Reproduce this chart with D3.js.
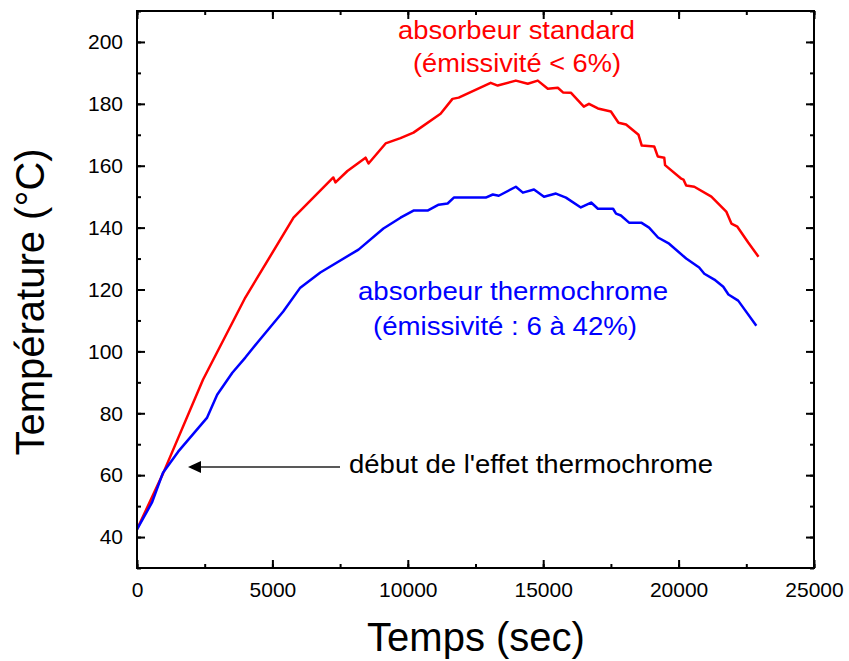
<!DOCTYPE html>
<html><head><meta charset="utf-8">
<script src="https://d3js.org/d3.v7.min.js"></script>
<style>body{margin:0;background:#fff}svg{display:block}text{font-family:Arial,"Liberation Sans",sans-serif}</style>
</head><body><div id="chart"></div>
<script>
const xTicks = [0,5000,10000,15000,20000,25000];
const yTicks = [40,60,80,100,120,140,160,180,200];

const standardT = [0,960,2440,4000,5780,7250,7330,7770,8440,8550,9180,9730,10210,11210,11650,11880,13060,13320,13990,14430,14800,15170,15540,15730,16020,16500,16690,17020,17500,17780,18060,18520,18640,19100,19230,19470,19500,20100,20180,20280,20580,21210,21760,21950,22170,22570,22950];
const standardV = [42.5,60.5,90.9,117.4,143.2,156.2,154.6,158.3,162.6,160.7,167.2,168.9,170.7,176.8,181.6,182,186.8,185.9,187.5,186.5,187.5,184.9,185.2,183.7,183.6,179.1,180,178.5,177.5,173.9,173.3,170,166.5,166.2,163,162.6,160.2,155.8,155.5,153.6,153.2,150,145.2,141.3,140.3,135.2,130.6];

const thermoT = [0,550,960,1520,2590,2960,3520,4000,4480,5400,6030,6770,8180,9100,9730,10210,10730,11140,11470,11700,12880,13140,13360,13990,14250,14660,15030,15470,15840,16390,16770,17020,17580,17690,17870,18170,18620,18910,19240,19650,20280,20760,20950,21320,21650,21840,22200,22870];
const thermoV = [42.5,51.1,60.8,67.6,78.6,86,93.1,98,103.2,112.9,120.6,125.5,132.9,139.7,143.2,145.5,145.5,147.4,147.8,149.7,149.7,150.7,150.3,153.2,151.3,152.3,150,151,149.7,146.5,148.1,146.1,146.1,144.5,143.9,141.6,141.6,140,136.8,134.8,130,127.1,125.1,123.2,120.9,118.4,116.4,108.3];

const W = 849, H = 661;
const pL = 137, pR = 814, pT = 11, pB = 568;
const svg = d3.select("#chart").append("svg").attr("width", W).attr("height", H);

const x = d3.scaleLinear().domain([0,25000]).range([pL,pR]);
const y = d3.scaleLinear().domain([30,210]).range([pB,pT]);

const line = d3.line().x(d=>x(d[0])).y(d=>y(d[1]));
svg.append("path").datum(standardT.map((t,i)=>[t,standardV[i]]))
  .attr("d", line).attr("fill","none").attr("stroke","#ff0000").attr("stroke-width",2.5).attr("stroke-linejoin","round");
svg.append("path").datum(thermoT.map((t,i)=>[t,thermoV[i]]))
  .attr("d", line).attr("fill","none").attr("stroke","#0000ff").attr("stroke-width",2.5).attr("stroke-linejoin","round");

// axes
const xMinor = d3.range(0,25001,2500);
const yMinor = d3.range(30,211,10);
function styleAxis(g){ g.select(".domain").remove(); g.selectAll("line").attr("stroke","#000").attr("stroke-width",2); }
svg.append("g").attr("transform",`translate(0,${pB})`)
  .call(d3.axisBottom(x).tickValues(xMinor).tickSize(-4).tickFormat(""))
  .call(styleAxis);
svg.append("g").attr("transform",`translate(0,${pB})`)
  .call(d3.axisBottom(x).tickValues(xTicks).tickSize(-8).tickPadding(14).tickFormat(d3.format("d")))
  .call(styleAxis).call(g=>g.selectAll("text").attr("font-size",21).attr("fill","#000"));
svg.append("g").attr("transform",`translate(0,${pT})`)
  .call(d3.axisTop(x).tickValues(xMinor).tickSize(-4).tickFormat("")).call(styleAxis);
svg.append("g").attr("transform",`translate(0,${pT})`)
  .call(d3.axisTop(x).tickValues(xTicks).tickSize(-8).tickFormat("")).call(styleAxis);
svg.append("g").attr("transform",`translate(${pL},0)`)
  .call(d3.axisLeft(y).tickValues(yMinor).tickSize(-4).tickFormat("")).call(styleAxis);
svg.append("g").attr("transform",`translate(${pL},0)`)
  .call(d3.axisLeft(y).tickValues(yTicks).tickSize(-8).tickPadding(14).tickFormat(d3.format("d")))
  .call(styleAxis).call(g=>g.selectAll("text").attr("font-size",21).attr("fill","#000"));
svg.append("g").attr("transform",`translate(${pR},0)`)
  .call(d3.axisRight(y).tickValues(yMinor).tickSize(-4).tickFormat("")).call(styleAxis);
svg.append("g").attr("transform",`translate(${pR},0)`)
  .call(d3.axisRight(y).tickValues(yTicks).tickSize(-8).tickFormat("")).call(styleAxis);
svg.append("rect").attr("x",pL).attr("y",pT).attr("width",pR-pL).attr("height",pB-pT)
  .attr("fill","none").attr("stroke","#000").attr("stroke-width",2);

// titles
svg.append("text").attr("x",476).attr("y",651).attr("text-anchor","middle").attr("font-size",40).text("Temps (sec)");
svg.append("text").attr("transform","translate(44,302) rotate(-90)").attr("text-anchor","middle").attr("font-size",40).text("Température (°C)");

// annotations
const ann = svg.append("g").attr("font-size",25);
function note(txt, x0, w, yb, col){
  ann.append("text").attr("x",x0).attr("y",yb).attr("fill",col)
    .attr("textLength",w).attr("lengthAdjust","spacingAndGlyphs").text(txt);
}
note("absorbeur standard", 398, 237, 39, "#ff0000");
note("(émissivité < 6%)", 413, 208, 72, "#ff0000");
note("absorbeur thermochrome", 358, 310, 300, "#0000ff");
note("(émissivité : 6 à 42%)", 373, 264, 335, "#0000ff");
note("début de l'effet thermochrome", 349, 364, 473, "#000");

svg.append("line").attr("x1",340).attr("x2",198).attr("y1",467).attr("y2",467).attr("stroke","#222").attr("stroke-width",1.3);
svg.append("path").attr("d","M188,467 L201,461 L201,473 Z").attr("fill","#000");
</script></body></html>
